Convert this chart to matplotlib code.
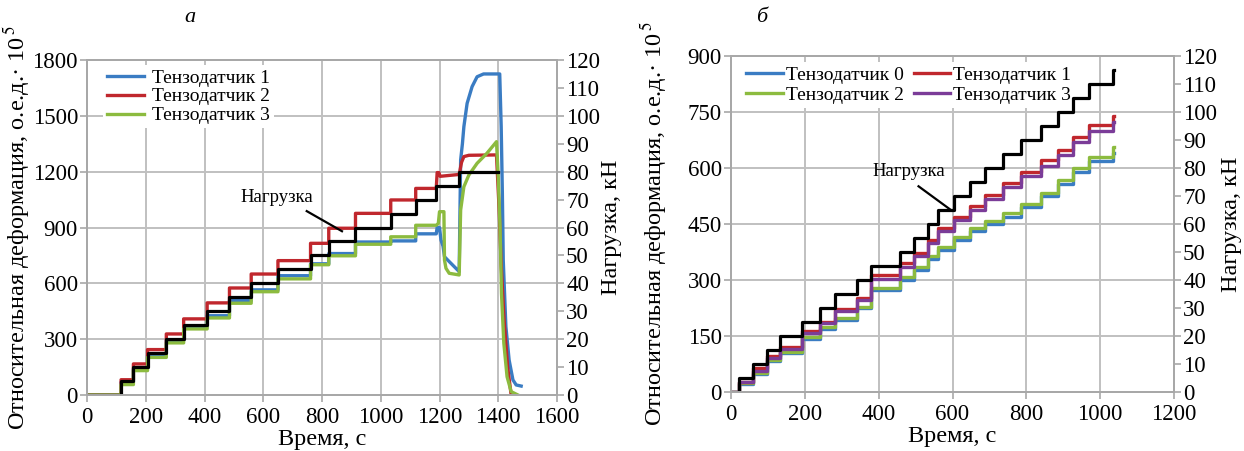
import matplotlib
matplotlib.use('Agg')
import matplotlib.pyplot as plt

plt.rcParams['font.family'] = ['Liberation Serif', 'DejaVu Serif']
plt.rcParams['mathtext.fontset'] = 'stix'

# ---------------- Panel a ----------------
load_a_t = [116, 158, 206, 270, 329, 409, 485, 559, 650, 761, 823, 914, 1034, 1119, 1189, 1267]
load_a_kN = [5, 10, 15, 20, 25, 30, 35, 40, 45, 50, 55, 60, 65, 70, 75, 80]
load_a_end = 1398

steps_a_t = [116, 158, 206, 270, 329, 409, 485, 559, 650, 761, 823, 914, 1034, 1119]
s1_a_steps = [68, 140, 211, 292, 364, 426, 507, 565, 641, 705, 760, 822, 828, 866]
s2_a_steps = [82, 167, 244, 328, 409, 495, 575, 650, 722, 815, 896, 976, 1048, 1110]
s3_a_steps = [56, 131, 202, 280, 355, 414, 493, 555, 624, 700, 748, 810, 850, 912]

s1_a_tail_t = [1189, 1192, 1200, 1205, 1212, 1217, 1228, 1250, 1267, 1272, 1278, 1283, 1294, 1311, 1328, 1350,
               1405, 1410, 1414, 1417, 1426, 1437, 1450, 1461, 1478]
s1_a_tail_v = [866, 900, 900, 833, 800, 743, 725, 690, 663, 1263, 1350, 1442, 1567, 1657, 1710, 1725,
               1725, 1442, 1084, 725, 367, 188, 81, 54, 48]
s2_a_tail_t = [1189, 1192, 1198, 1202, 1267, 1275, 1283, 1300, 1394, 1403, 1410, 1420, 1432, 1444]
s2_a_tail_v = [1110, 1195, 1195, 1175, 1185, 1250, 1281, 1288, 1290, 1000, 700, 400, 150, 0]
s3_a_tail_t = [1189, 1196, 1200, 1215, 1217, 1222, 1233, 1267, 1272, 1283, 1300, 1328, 1361, 1394,
               1400, 1406, 1411, 1419, 1430, 1444, 1467]
s3_a_tail_v = [912, 922, 985, 985, 725, 681, 654, 645, 994, 1119, 1182, 1245, 1298, 1361,
               1173, 904, 546, 278, 98, 18, 0]

# ---------------- Panel b ----------------
load_b_t = [22, 60, 97, 134, 192, 240, 282, 342, 378, 458, 497, 533, 562, 603, 647, 689, 736, 786,
            840, 885, 926, 971, 1035]
load_b_kN = [5, 10, 15, 20, 25, 30, 35, 40, 45, 50, 55, 60, 65, 70, 75, 80, 85, 90, 95, 100, 105, 110, 115]
load_b_end = 1037

s0_b = [21, 49, 83, 105, 143, 169, 193, 224, 273, 300, 328, 355, 381, 407, 431, 450, 470, 495, 524, 558, 590, 620, 640]
s1_b = [27, 63, 96, 121, 163, 188, 221, 251, 313, 345, 372, 407, 439, 470, 499, 528, 560, 590, 621, 648, 684, 715, 740]
s2_b = [23, 52, 86, 108, 146, 173, 197, 228, 278, 309, 336, 363, 389, 414, 439, 458, 479, 503, 532, 568, 599, 629, 657]
s3_b = [26, 57, 90, 116, 157, 184, 217, 246, 304, 336, 364, 398, 430, 461, 488, 516, 548, 578, 606, 636, 670, 700, 722]

C_BLUE = '#3a7cc3'
C_RED = '#c0272d'
C_GREEN = '#8cbb3f'
C_PURPLE = '#7b3c98'
GRID = '#c0c0c0'
SPINE = '#a8a8a8'
TICK_FS = 16.5
LABEL_FS = 17.5
LEG_FS = 14


def stairs(times, levels, end=None, start=0.0, v0=0.0):
    xs, ys = [start], [v0]
    for t, v in zip(times, levels):
        xs += [t, t]
        ys += [ys[-1], v]
    if end is not None:
        xs.append(end)
        ys.append(ys[-1])
    return xs, ys


fig = plt.figure(figsize=(12.44, 4.51), dpi=100)
axA = fig.add_axes([87 / 1244, 1 - 395 / 451, 470 / 1244, 335 / 451])
axB = fig.add_axes([731 / 1244, 1 - 392 / 451, 443 / 1244, 336 / 451])


def style(ax, axr, xmax, xstep, ymax, ystep):
    ax.set_xlim(0, xmax)
    ax.set_ylim(0, ymax)
    ax.set_xticks(range(0, xmax + 1, xstep))
    ax.set_yticks(range(0, ymax + 1, ystep))
    ax.grid(True, color=GRID, lw=1.4)
    ax.set_axisbelow(True)
    for s in ax.spines.values():
        s.set_color(SPINE)
        s.set_linewidth(1.4)
    for s in axr.spines.values():
        s.set_color(SPINE)
        s.set_linewidth(1.4)
    ax.tick_params(axis='y', colors=SPINE, labelcolor='black', labelsize=TICK_FS,
                   length=5, width=1.2, direction='out', pad=1.5)
    ax.tick_params(axis='x', colors=SPINE, labelcolor='black', labelsize=TICK_FS,
                   length=5, width=1.2, direction='out', pad=3.5)
    axr.set_ylim(0, 120)
    axr.set_yticks(range(0, 121, 10))
    axr.tick_params(axis='y', colors=SPINE, labelcolor='black', labelsize=TICK_FS,
                    length=5, width=1.2, direction='out', pad=1.5)
    ax.set_xlabel('Время, с', fontsize=LABEL_FS)
    ax.set_ylabel('Относительная деформация, о.е.д.· 10$^{\\,5}$', fontsize=LABEL_FS)
    axr.set_ylabel('Нагрузка, кН', fontsize=LABEL_FS, rotation=90)


# Panel a
axAr = axA.twinx()
style(axA, axAr, 1600, 200, 1800, 300)
for steps, tail_t, tail_v, col, lab in [
        (s1_a_steps, s1_a_tail_t, s1_a_tail_v, C_BLUE, 'Тензодатчик 1'),
        (s2_a_steps, s2_a_tail_t, s2_a_tail_v, C_RED, 'Тензодатчик 2'),
        (s3_a_steps, s3_a_tail_t, s3_a_tail_v, C_GREEN, 'Тензодатчик 3')]:
    xs, ys = stairs(steps_a_t, steps)
    xs += tail_t
    ys += tail_v
    axA.plot(xs, ys, color=col, lw=2.4, label=lab, solid_joinstyle='round')
xs, ys = stairs(load_a_t, load_a_kN, end=load_a_end)
axAr.plot(xs, ys, color='black', lw=2.3)
axA.text(647, 1059, 'Нагрузка', fontsize=13.5, ha='center', va='center')
axA.plot([748, 868], [988, 880], color='black', lw=1.6)
legA = axA.legend(loc='upper left', bbox_to_anchor=(0.035, 0.985), fontsize=LEG_FS,
                  handlelength=1.9, handletextpad=0.4, labelspacing=0.07,
                  borderpad=0.2, frameon=True, fancybox=False, borderaxespad=0)
legA.get_frame().set_edgecolor('none')
legA.get_frame().set_facecolor('white')
legA.get_frame().set_alpha(1)
axA.yaxis.set_label_coords(-0.118, 0.5)
axAr.yaxis.set_label_coords(1.094, 0.5)
axA.xaxis.set_label_coords(0.5, -0.1)

# Panel b
axBr = axB.twinx()
style(axB, axBr, 1200, 200, 900, 150)
lines = {}
for vals, col, lab in [(s0_b, C_BLUE, 'Тензодатчик 0'),
                       (s2_b, C_GREEN, 'Тензодатчик 2'),
                       (s1_b, C_RED, 'Тензодатчик 1'),
                       (s3_b, C_PURPLE, 'Тензодатчик 3')]:
    xs, ys = stairs(load_b_t, vals, end=load_b_end)
    lines[lab] = axB.plot(xs, ys, color=col, lw=2.4, label=lab)[0]
xs, ys = stairs(load_b_t, load_b_kN, end=load_b_end)
axBr.plot(xs, ys, color='black', lw=2.3)
axB.text(483, 591, 'Нагрузка', fontsize=13.5, ha='center', va='center')
axB.plot([508, 595], [551, 488], color='black', lw=1.6)
order = ['Тензодатчик 0', 'Тензодатчик 2', 'Тензодатчик 1', 'Тензодатчик 3']
legB = axB.legend([lines[k] for k in order], order, loc='upper left', ncol=2,
                  bbox_to_anchor=(0.025, 0.982), fontsize=LEG_FS, handlelength=1.9,
                  handletextpad=0.15, labelspacing=0.15, columnspacing=0.5,
                  borderpad=0.2, frameon=True, fancybox=False, borderaxespad=0)
legB.get_frame().set_edgecolor('none')
legB.get_frame().set_facecolor('white')
legB.get_frame().set_alpha(1)
axB.yaxis.set_label_coords(-0.14, 0.5)
axBr.yaxis.set_label_coords(1.105, 0.5)
axB.xaxis.set_label_coords(0.5, -0.1)

fig.text(190 / 1244, 1 - 18 / 451, 'а', fontsize=16, style='italic', ha='center', va='center')
fig.text(762 / 1244, 1 - 18 / 451, 'б', fontsize=16, style='italic', ha='center', va='center')

fig.savefig('out.png', dpi=100)
